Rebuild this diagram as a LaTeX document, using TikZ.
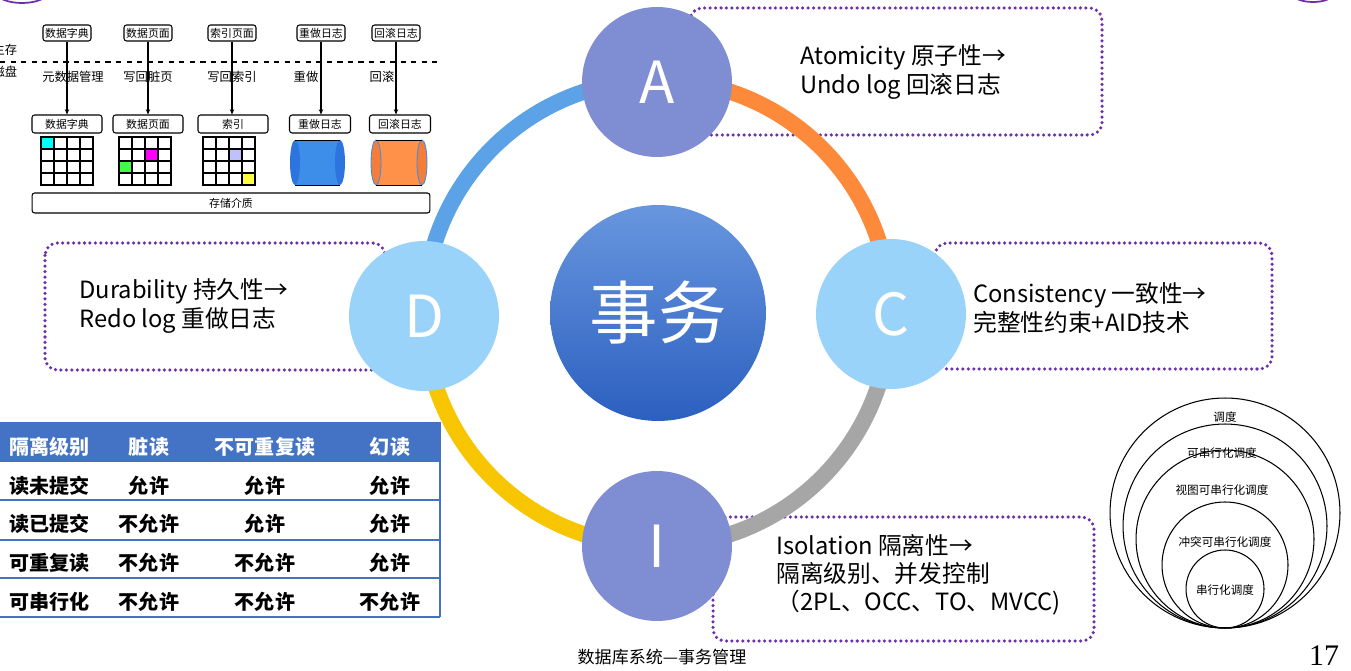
\documentclass[tikz,border=0pt]{standalone}
\usepackage{fontspec}
\setmainfont{Noto Sans CJK SC}
\newfontfamily\pagenumfont{Liberation Serif}
\usepackage{tikz}
\usetikzlibrary{arrows.meta, positioning, shapes.geometric}
\definecolor{ringBlue}{RGB}{91,163,230}
\definecolor{ringOrange}{RGB}{253,138,58}
\definecolor{ringGray}{RGB}{166,166,166}
\definecolor{ringYellow}{RGB}{247,198,0}
\definecolor{acidA}{RGB}{127,141,211}
\definecolor{acidC}{RGB}{153,211,250}
\definecolor{coreTop}{RGB}{104,150,222}
\definecolor{coreBot}{RGB}{44,96,192}
\definecolor{boxPurple}{RGB}{108,48,168}
\definecolor{tblBlue}{RGB}{68,114,196}
\definecolor{cylBlue}{RGB}{60,142,232}
\definecolor{cylBlueEnd}{RGB}{46,116,222}
\definecolor{cylOrange}{RGB}{255,145,72}
\definecolor{cylOrangeEnd}{RGB}{245,125,58}
\definecolor{cellCyan}{RGB}{0,255,255}
\definecolor{cellMagenta}{RGB}{255,0,255}
\definecolor{cellGreen}{RGB}{64,255,64}
\definecolor{cellLav}{RGB}{192,192,255}
\definecolor{cellYellow}{RGB}{255,255,64}

\tikzset{
  ring/.style={line width=9.2pt},
  acid/.style={circle, inner sep=0pt, minimum size=3cm, text=white,
    font=\fontsize{33}{33}\selectfont},
  infobox/.style={draw=boxPurple, line width=2pt, dash pattern=on 0pt off 3.1pt,
    line cap=round, rounded corners=7pt},
  infotext/.style={anchor=west, align=left, inner sep=0pt, font=\fontsize{13.5}{16}\selectfont},
  membox/.style={draw, rounded corners=1.5pt, inner sep=0pt, minimum width=0.96cm,
    minimum height=0.32cm, font=\fontsize{6.2}{6.2}\selectfont, line width=0.6pt},
  diskbox/.style={membox, minimum height=0.36cm},
  flowlbl/.style={font=\fontsize{7}{7}\selectfont},
  tblhead/.style={text=white, font=\bfseries\fontsize{11.4}{11.4}\selectfont},
  tblcell/.style={font=\bfseries\fontsize{11.4}{11.4}\selectfont},
  schedlbl/.style={font=\fontsize{6.6}{6.6}\selectfont},
}

\begin{document}
\begin{tikzpicture}[x=0.02cm, y=-0.02cm]
    \useasboundingbox (0,0) rectangle (1351,671);

    % corner decorations
    \draw[boxPurple, line width=1pt] (22,-7) ellipse[x radius=25, y radius=10];
    \draw[boxPurple, line width=1pt] (1313,-6) ellipse[x radius=20, y radius=8];

    % dotted boxes
    \draw[infobox] (690,8) rectangle (1102,135);
    \draw[infobox] (935,243) rectangle (1272,369);
    \draw[infobox] (45,243) rectangle (385,370);
    \draw[infobox] (713,517) rectangle (1094,641);

    % ring
    \draw[ring, ringOrange] (657,313) ++(-90:233) arc[start angle=-90, end angle=0, radius=233];
    \draw[ring, ringGray] (657,313) ++(0:233) arc[start angle=0, end angle=90, radius=233];
    \draw[ring, ringYellow] (657,313) ++(90:233) arc[start angle=90, end angle=180, radius=233];
    \draw[ring, ringBlue] (657,313) ++(180:233) arc[start angle=180, end angle=270, radius=233];

    \node[acid, fill=acidA] (atom) at (657,82) {A};
    \node[acid, fill=acidC] (cons) at (891,314) {C};
    \node[acid, fill=acidC] (dura) at (424,316) {D};
    \node[acid, fill=acidA] (isol) at (657,546) {I};
    \node[circle, inner sep=0pt, minimum size=4.32cm, top color=coreTop, bottom color=coreBot,
      text=white, font=\fontsize{39}{39}\selectfont] (txn) at (658,313) {事务};

    \node[infotext] (atomtxt) at (800,72) {Atomicity 原子性→\\Undo log 回滚日志};
    \node[infotext] (constxt) at (973,308) {Consistency 一致性→\\完整性约束+AID技术};
    \node[infotext] (duratxt) at (79,306) {Durability 持久性→\\Redo log 重做日志};
    \node[infotext] (isoltxt) at (776,575) {Isolation 隔离性→\\隔离级别、并发控制\\（2PL、OCC、TO、MVCC)};

    % memory / disk
    \draw[dashed, line width=0.6pt] (0,62) -- (437,62);
    \node[flowlbl] (mainmem) at (5,50) {主存};
    \node[flowlbl] (disk) at (5,72) {磁盘};

    \node[membox] (m1) at (67,33) {数据字典};
    \node[membox] (m2) at (148,33) {数据页面};
    \node[membox] (m3) at (232,33) {索引页面};
    \node[membox] (m4) at (321,33) {重做日志};
    \node[membox] (m5) at (396,33) {回滚日志};

    \node[diskbox, minimum width=1.4cm] (d1) at (67,124) {数据字典};
    \node[diskbox, minimum width=1.4cm] (d2) at (148,124) {数据页面};
    \node[diskbox, minimum width=1.4cm] (d3) at (233,124) {索引};
    \node[diskbox, minimum width=1.22cm] (d4) at (320,124) {重做日志};
    \node[diskbox, minimum width=1.22cm] (d5) at (400,124) {回滚日志};

    \foreach \i in {1,...,5}
      \draw[-{Stealth[length=3pt, width=2.5pt]}, line width=0.6pt] (m\i.south) -- (d\i.north -| m\i.south);

    \node[flowlbl] (w1) at (73,77) {元数据管理};
    \node[flowlbl] (w2) at (148,77) {写回脏页};
    \node[flowlbl] (w3) at (232,77) {写回索引};
    \node[flowlbl] (w4) at (306,77) {重做};
    \node[flowlbl] (w5) at (382,77) {回滚};

    \fill[cellCyan] (41,137) rectangle ++(13,12);
    \fill[cellMagenta] (145,149) rectangle ++(13,12);
    \fill[cellGreen] (119,161) rectangle ++(13,12);
    \fill[cellLav] (229,149) rectangle ++(13,12);
    \fill[cellYellow] (242,173) rectangle ++(13,12);
    \foreach \gx in {41,119,203}
      \foreach \i in {0,...,3}
        \foreach \j in {0,...,3}
          \draw[line width=0.6pt] (\gx+\i*13,137+\j*12) rectangle ++(13,12);

    \fill[cylBlue] (295,140) rectangle (340,185);
    \fill[cylBlueEnd] (295,162.5) ellipse[x radius=5, y radius=22.5];
    \fill[cylBlueEnd] (340,162.5) ellipse[x radius=5, y radius=22.5];
    \draw[line width=0.5pt] (295,140) -- (340,140) (295,185) -- (340,185);
    \fill[cylOrange] (376,140) rectangle (422,185);
    \filldraw[fill=cylOrangeEnd, draw=cylBlue, line width=0.5pt] (376,162.5) ellipse[x radius=5, y radius=22.5];
    \filldraw[fill=cylOrangeEnd, draw=cylBlue, line width=0.5pt] (422,162.5) ellipse[x radius=5, y radius=22.5];
    \draw[line width=0.5pt] (376,140) -- (422,140) (376,185) -- (422,185);

    \node[membox, minimum width=7.96cm, minimum height=0.4cm] (store) at (231,203) {存储介质};

    % isolation table
    \fill[tblBlue] (-5,422) rectangle (440,462);
    \foreach \yy in {500,540,578,617}
      \draw[tblBlue, line width=1.2pt] (-5,\yy) -- (440,\yy);
    \draw[tblBlue, line width=1.2pt] (440,422) -- (440,617);
    \node[tblhead, anchor=west] (h1) at (3,447) {隔离级别};
    \node[tblhead] (h2) at (149,447) {脏读};
    \node[tblhead] (h3) at (265,447) {不可重复读};
    \node[tblhead] (h4) at (390,447) {幻读};
    \foreach \yy/\lvl/\da/\db/\dc in {486/读未提交/允许/允许/允许,
        524/读已提交/不允许/允许/允许,
        563/可重复读/不允许/不允许/允许,
        602/可串行化/不允许/不允许/不允许} {
      \node[tblcell, anchor=west] (lvl\yy) at (3,\yy) {\lvl};
      \node[tblcell] (dirty\yy) at (149,\yy) {\da};
      \node[tblcell] (nonrep\yy) at (265,\yy) {\db};
      \node[tblcell] (phan\yy) at (390,\yy) {\dc};
    }

    % schedules
    \node[circle, draw, inner sep=0pt, minimum size=4.6cm, line width=0.6pt] (s1) at (1225,513) {};
    \node[circle, draw, inner sep=0pt, minimum size=4.08cm, line width=0.6pt] (s2) at (1225,526) {};
    \node[circle, draw, inner sep=0pt, minimum size=3.56cm, line width=0.6pt] (s3) at (1225,539) {};
    \node[circle, draw, inner sep=0pt, minimum size=2.52cm, line width=0.6pt] (s4) at (1225,565) {};
    \node[circle, draw, inner sep=0pt, minimum size=1.56cm, line width=0.6pt] (s5) at (1225,589) {};
    \node[schedlbl] (l1) at (1225,417) {调度};
    \node[schedlbl] (l2) at (1222,453) {可串行化调度};
    \node[schedlbl] (l3) at (1222,490) {视图可串行化调度};
    \node[schedlbl] (l4) at (1225,542) {冲突可串行化调度};
    \node[schedlbl] (l5) at (1225,590) {串行化调度};

    \node[font=\fontsize{9.7}{9.7}\selectfont] (footer) at (662,657) {数据库系统—事务管理};
    \node[inner sep=0pt, font=\pagenumfont\fontsize{17}{17}\selectfont] (pageno) at (1324,656) {17};
\end{tikzpicture}
\end{document}
